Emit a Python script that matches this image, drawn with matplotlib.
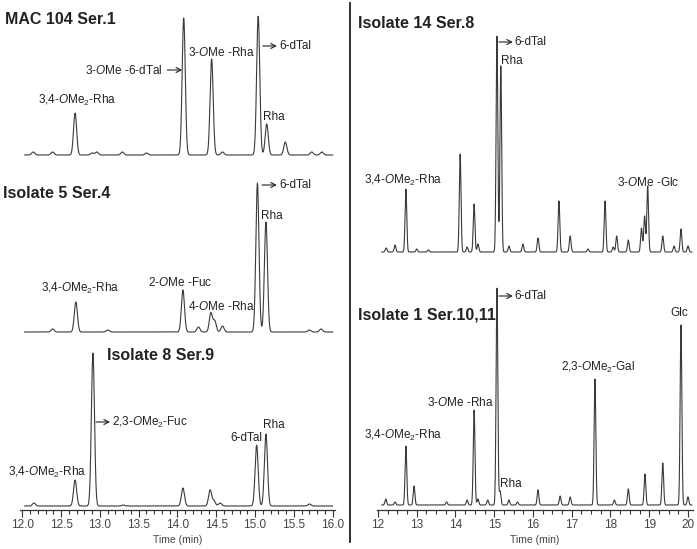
import matplotlib
matplotlib.use('Agg')
import matplotlib.pyplot as plt
from matplotlib.ticker import MultipleLocator, FormatStrFormatter
import numpy as np

plt.rcParams['font.family'] = ['Liberation Sans', 'DejaVu Sans']
plt.rcParams['mathtext.fontset'] = 'custom'
plt.rcParams['mathtext.rm'] = 'Liberation Sans'
plt.rcParams['mathtext.it'] = 'Liberation Sans:italic'

# peaks: retention time (min), height (arbitrary units)
mac104_t = [12.14, 12.39, 12.68, 12.90, 12.96, 13.29, 13.60, 14.08, 14.44, 14.58,
            15.04, 15.15, 15.39, 15.73, 15.86]
mac104_h = [3, 3, 42, 2, 3, 3, 2, 137, 96, 3, 139, 31, 13, 3, 3]

iso5_t = [12.39, 12.69, 13.10, 14.07, 14.27, 14.43, 14.48, 14.58, 15.03, 15.14, 15.70, 15.85]
iso5_h = [3, 30, 2, 42, 5, 19, 11, 6, 149, 110, 2, 3]

iso8_t = [12.15, 12.68, 12.91, 13.30, 14.07, 14.42, 14.47, 14.55, 15.02, 15.14, 15.70]
iso8_h = [3, 26, 153, 1, 18, 16, 5, 3, 61, 72, 2]

iso14_t = [12.21, 12.44, 12.72, 13.00, 13.30, 14.12, 14.30, 14.48, 14.58, 15.07, 15.17,
           15.38, 15.74, 16.13, 16.67, 16.96, 17.42, 17.86, 18.07, 18.16, 18.46, 18.80,
           18.88, 18.96, 19.35, 19.64, 19.82, 20.00]
iso14_h = [4, 7, 63, 3, 2, 98, 5, 48, 8, 216, 186, 6, 8, 14, 51, 16, 3, 51, 5, 16, 12,
           24, 36, 66, 16, 6, 23, 6]

iso1_t = [12.20, 12.44, 12.72, 12.93, 13.77, 14.30, 14.48, 14.58, 14.83, 15.07, 15.15,
          15.38, 15.60, 16.13, 16.70, 16.96, 17.60, 18.10, 18.46, 18.89, 19.35, 19.82, 20.00]
iso1_h = [6, 3, 59, 19, 3, 5, 95, 6, 5, 217, 14, 5, 3, 15, 9, 8, 126, 5, 16, 31, 42, 180, 8]

fig = plt.figure(figsize=(6.97, 5.49), dpi=100)
W, H = 697, 549
base_px = 510  # axis spine, pixels from top


def trace(t, times, heights, sigma=0.02):
    y = np.zeros_like(t)
    for c, h in zip(times, heights):
        y += h * np.exp(-0.5 * ((t - c) / sigma) ** 2)
    return y


def make_ax(x0, x1, xlim):
    ax = fig.add_axes([x0 / W, (H - base_px) / H, (x1 - x0) / W, base_px / H])
    ax.set_xlim(*xlim)
    ax.set_ylim(0, base_px)
    for s in ['left', 'right', 'top']:
        ax.spines[s].set_visible(False)
    ax.spines['bottom'].set_color('#333333')
    ax.spines['bottom'].set_linewidth(0.9)
    ax.set_yticks([])
    ax.tick_params(axis='x', which='major', direction='out', length=5, width=0.8,
                   color='#333333', labelsize=8.5, labelcolor='#444444', pad=1.5)
    ax.tick_params(axis='x', which='minor', direction='out', length=3, width=0.8,
                   color='#333333')
    ax.set_xlabel('Time (min)', fontsize=7.5, color='#444444', labelpad=3)
    ax.patch.set_visible(False)
    return ax


def arrow(ax, x0, x1, y):
    ax.annotate('', xy=(x1, y), xytext=(x0, y),
                arrowprops=dict(arrowstyle='->,head_length=0.35,head_width=0.18',
                                color='#222222', lw=0.8, shrinkA=0, shrinkB=0))


LC = '#3a3a3a'
TK = dict(fontsize=8.5, color='#222222')
BK = dict(fontsize=11.5, fontweight='bold', color='#222222')
ome2 = r'$\mathit{O}$Me$_2$'
ome = r'$\mathit{O}$Me'

# ---------------- left column
axL = make_ax(20, 335, (11.97, 16.03))
axL.xaxis.set_major_locator(MultipleLocator(0.5))
axL.xaxis.set_minor_locator(MultipleLocator(0.1))
axL.xaxis.set_major_formatter(FormatStrFormatter('%.1f'))
tl = np.linspace(12.03, 16.0, 1500)

off = [355, 178, 4]
for (tm, ht), o in zip([(mac104_t, mac104_h), (iso5_t, iso5_h), (iso8_t, iso8_h)], off):
    axL.plot(tl, o + trace(tl, tm, ht), color=LC, lw=0.8)

# MAC 104
axL.text(-0.048, 0.962, 'MAC 104 Ser.1', transform=axL.transAxes, ha='left', va='center', **BK)
axL.text(12.70, off[0] + 55, '3,4-' + ome2 + '-Rha', ha='center', va='center', **TK)
axL.text(13.81, off[0] + 85, '3-' + ome + ' -6-dTal', ha='right', va='center', **TK)
arrow(axL, 13.87, 14.06, off[0] + 85)
axL.text(14.56, off[0] + 102, '3-' + ome + ' -Rha', ha='center', va='center', **TK)
arrow(axL, 15.10, 15.28, off[0] + 109)
axL.text(15.31, off[0] + 109, '6-dTal', ha='left', va='center', **TK)
axL.text(15.24, off[0] + 38, 'Rha', ha='center', va='center', **TK)

# Isolate 5
axL.text(-0.054, 0.62, 'Isolate 5 Ser.4', transform=axL.transAxes, ha='left', va='center', **BK)
axL.text(12.74, off[1] + 44, '3,4-' + ome2 + '-Rha', ha='center', va='center', **TK)
axL.text(14.03, off[1] + 50, '2-' + ome + ' -Fuc', ha='center', va='center', **TK)
axL.text(14.57, off[1] + 25, '4-' + ome + ' -Rha', ha='center', va='center', **TK)
arrow(axL, 15.09, 15.28, off[1] + 147)
axL.text(15.31, off[1] + 147, '6-dTal', ha='left', va='center', **TK)
axL.text(15.21, off[1] + 116, 'Rha', ha='center', va='center', **TK)

# Isolate 8
axL.text(13.09, off[2] + 150, 'Isolate 8 Ser.9', ha='left', va='center', **BK)
arrow(axL, 12.95, 13.13, off[2] + 84)
axL.text(13.16, off[2] + 84, '2,3-' + ome2 + '-Fuc', ha='left', va='center', **TK)
axL.text(12.32, off[2] + 34, '3,4-' + ome2 + '-Rha', ha='center', va='center', **TK)
axL.text(15.10, off[2] + 68, '6-dTal', ha='right', va='center', **TK)
axL.text(15.24, off[2] + 81, 'Rha', ha='center', va='center', **TK)

# ---------------- right column
axR = make_ax(377, 693, (11.974, 20.13))
axR.xaxis.set_major_locator(MultipleLocator(1))
axR.xaxis.set_minor_locator(MultipleLocator(0.25))
tr = np.linspace(12.1, 20.1, 3000)

offR = [258, 5]
for (tm, ht), o in zip([(iso14_t, iso14_h), (iso1_t, iso1_h)], offR):
    axR.plot(tr, o + trace(tr, tm, ht, sigma=0.022), color=LC, lw=0.8)

# Isolate 14
axR.text(11.48, offR[0] + 229, 'Isolate 14 Ser.8', ha='left', va='center', **BK)
arrow(axR, 15.12, 15.48, offR[0] + 210)
axR.text(15.53, offR[0] + 210, '6-dTal', ha='left', va='center', **TK)
axR.text(15.17, offR[0] + 191, 'Rha', ha='left', va='center', **TK)
axR.text(12.645, offR[0] + 72, '3,4-' + ome2 + '-Rha', ha='center', va='center', **TK)
axR.text(18.97, offR[0] + 70, '3-' + ome + ' -Glc', ha='center', va='center', **TK)

# Isolate 1
axR.text(11.48, offR[1] + 190, 'Isolate 1 Ser.10,11', ha='left', va='center', **BK)
arrow(axR, 15.12, 15.48, offR[1] + 209)
axR.text(15.53, offR[1] + 209, '6-dTal', ha='left', va='center', **TK)
axR.text(14.12, offR[1] + 103, '3-' + ome + ' -Rha', ha='center', va='center', **TK)
axR.text(12.645, offR[1] + 70, '3,4-' + ome2 + '-Rha', ha='center', va='center', **TK)
axR.text(15.15, offR[1] + 21, 'Rha', ha='left', va='center', **TK)
axR.text(17.68, offR[1] + 138, '2,3-' + ome2 + '-Gal', ha='center', va='center', **TK)
axR.text(19.77, offR[1] + 192, 'Glc', ha='center', va='center', **TK)

# separator
fig.add_artist(plt.Line2D([350 / W, 350 / W], [1 - 3 / H, 1 - 542 / H], color='#222222', lw=1.3))

fig.savefig('out.png', dpi=100)
